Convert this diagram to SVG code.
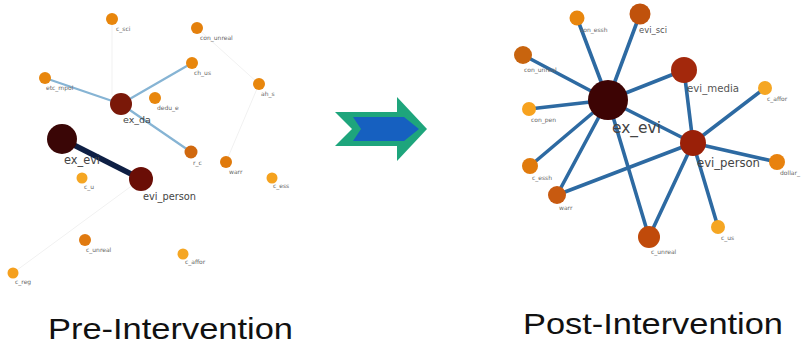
<svg xmlns="http://www.w3.org/2000/svg" width="803" height="347" viewBox="0 0 803 347">
  <style>
    .lbl { font-family: "DejaVu Sans", sans-serif; fill: #555; }
    .tiny { font-size: 6px; fill: #666; }
    .big { fill: #444; }
    .faint { stroke: #f1f1f1; stroke-width: 1; fill: none; }
    .light { stroke: #86b4d4; stroke-width: 2.2; fill: none; stroke-linecap: round; }
    .strong { stroke: #0e1f44; stroke-width: 5.5; fill: none; }
    .blue { stroke: #2d6aa2; stroke-width: 3.6; fill: none; stroke-linecap: round; }
    .caption { font-family: "Liberation Sans", Arial, sans-serif; fill: #111; }
  </style>
  <rect width="803" height="347" fill="#ffffff"/>

  <!-- Pre-intervention network: connectors -->
  <g id="pre-edges">
    <line class="faint" x1="141" y1="179" x2="13" y2="273"/>
    <line class="faint" x1="197" y1="28" x2="259" y2="84"/>
    <line class="faint" x1="112" y1="19" x2="112" y2="95"/>
    <line class="faint" x1="259" y1="84" x2="226" y2="162"/>
    <line class="light" x1="121" y1="104" x2="45" y2="78"/>
    <line class="light" x1="121" y1="104" x2="192" y2="63"/>
    <line class="light" x1="121" y1="104" x2="191" y2="152"/>
    <line class="strong" x1="62" y1="139" x2="141" y2="179"/>
  </g>

  <!-- Pre-intervention network: nodes -->
  <g id="pre-c_sci"><circle cx="112" cy="19" r="6" fill="#e8860c"/><text class="lbl tiny" x="116" y="31">c_sci</text></g>
  <g id="pre-con_unreal"><circle cx="197" cy="28" r="6" fill="#e4800c"/><text class="lbl tiny" x="200" y="40">con_unreal</text></g>
  <g id="pre-c_us"><circle cx="192" cy="63" r="6" fill="#e8860c"/><text class="lbl tiny" x="194" y="75">ch_us</text></g>
  <g id="pre-con_pen"><circle cx="45" cy="78" r="6" fill="#e8860c"/><text class="lbl tiny" x="46" y="90">etc_mpol</text></g>
  <g id="pre-dollar"><circle cx="155" cy="98" r="6" fill="#e8860c"/><text class="lbl tiny" x="157" y="110">dedu_e</text></g>
  <g id="pre-ah_s"><circle cx="259" cy="84" r="6" fill="#e8860c"/><text class="lbl tiny" x="261" y="96">ah_s</text></g>
  <g id="pre-ex_da"><circle cx="121" cy="104" r="11" fill="#7a1808"/><text class="lbl big" x="123" y="123" font-size="9.5" font-family="Liberation Serif, serif">ex_da</text></g>
  <g id="pre-r_c"><circle cx="191" cy="152" r="6.5" fill="#d0680e"/><text class="lbl tiny" x="193" y="165">r_c</text></g>
  <g id="pre-warr"><circle cx="226" cy="162" r="6" fill="#e07a0c"/><text class="lbl tiny" x="229" y="174">warr</text></g>
  <g id="pre-c_ess"><circle cx="272" cy="178" r="5.5" fill="#f5a21e"/><text class="lbl tiny" x="273" y="188">c_ess</text></g>
  <g id="pre-c_u"><circle cx="82" cy="178" r="5.5" fill="#f5a623"/><text class="lbl tiny" x="84" y="189">c_u</text></g>
  <g id="pre-ex_evi"><circle cx="62" cy="139" r="15" fill="#3a0606"/><text class="lbl big" x="64" y="164" font-size="11.5" textLength="36" lengthAdjust="spacingAndGlyphs">ex_evi</text></g>
  <g id="pre-evi_person"><circle cx="141" cy="179" r="12" fill="#6a0e06"/><text class="lbl big" x="143" y="200" font-size="10" textLength="53" lengthAdjust="spacingAndGlyphs">evi_person</text></g>
  <g id="pre-c_unreal"><circle cx="85" cy="240" r="6" fill="#e07a10"/><text class="lbl tiny" x="86" y="252">c_unreal</text></g>
  <g id="pre-c_affor"><circle cx="183" cy="254" r="5.5" fill="#f5a623"/><text class="lbl tiny" x="185" y="264">c_affor</text></g>
  <g id="pre-c_reg"><circle cx="13" cy="273" r="5.5" fill="#f5a01e"/><text class="lbl tiny" x="15" y="284">c_reg</text></g>

  <!-- Transition arrow -->
  <g id="arrow">
    <polygon points="335,112 397,112 397,97 427,129 397,161 397,146 335,146 352,129" fill="#1ea57c"/>
    <polygon points="353,117 404,117 419,129 404,141 353,141 361,129" fill="#1660c0"/>
  </g>

  <!-- Post-intervention network: connectors -->
  <g id="post-edges">
    <line class="blue" x1="608" y1="100" x2="577" y2="18"/>
    <line class="blue" x1="608" y1="100" x2="640" y2="14"/>
    <line class="blue" x1="608" y1="100" x2="523" y2="55"/>
    <line class="blue" x1="608" y1="100" x2="529" y2="109"/>
    <line class="blue" x1="608" y1="100" x2="684" y2="70"/>
    <line class="blue" x1="608" y1="100" x2="530" y2="166"/>
    <line class="blue" x1="608" y1="100" x2="557" y2="195"/>
    <line class="blue" x1="608" y1="100" x2="649" y2="237"/>
    <line class="blue" x1="608" y1="100" x2="693" y2="143"/>
    <line class="blue" x1="684" y1="70" x2="693" y2="143"/>
    <line class="blue" x1="693" y1="143" x2="765" y2="88"/>
    <line class="blue" x1="693" y1="143" x2="777" y2="162"/>
    <line class="blue" x1="693" y1="143" x2="557" y2="195"/>
    <line class="blue" x1="693" y1="143" x2="649" y2="237"/>
    <line class="blue" x1="693" y1="143" x2="718" y2="227"/>
  </g>

  <!-- Post-intervention network: nodes -->
  <g id="post-con_essh"><circle cx="577" cy="18" r="7.5" fill="#e8860e"/><text class="lbl tiny" x="580" y="32">con_essh</text></g>
  <g id="post-evi_sci"><circle cx="640" cy="14" r="10.5" fill="#c0520c"/><text class="lbl" x="639" y="33" font-size="8.5" textLength="28" lengthAdjust="spacingAndGlyphs">evi_sci</text></g>
  <g id="post-con_unreal"><circle cx="523" cy="55" r="9" fill="#c8640e"/><text class="lbl tiny" x="524" y="72">con_unreal</text></g>
  <g id="post-con_pen"><circle cx="529" cy="109" r="7" fill="#f7a21e"/><text class="lbl tiny" x="531" y="122">con_pen</text></g>
  <g id="post-evi_media"><circle cx="684" cy="70" r="13" fill="#a3280c"/><text class="lbl" x="687" y="92" font-size="10.5" textLength="52" lengthAdjust="spacingAndGlyphs">evi_media</text></g>
  <g id="post-c_affor"><circle cx="765" cy="88" r="7" fill="#f5a623"/><text class="lbl tiny" x="767" y="101">c_affor</text></g>
  <g id="post-ex_evi"><circle cx="608" cy="100" r="20" fill="#3d0404"/><text class="lbl big" x="612" y="133" font-size="16" textLength="49" lengthAdjust="spacingAndGlyphs">ex_evi</text></g>
  <g id="post-evi_person"><circle cx="693" cy="143" r="13" fill="#9a2008"/><text class="lbl big" x="697" y="167" font-size="12" textLength="63" lengthAdjust="spacingAndGlyphs">evi_person</text></g>
  <g id="post-dollar"><circle cx="777" cy="162" r="8" fill="#e8820e"/><text class="lbl tiny" x="780" y="175">dollar_</text></g>
  <g id="post-c_essh"><circle cx="530" cy="166" r="8" fill="#e07a0c"/><text class="lbl tiny" x="532" y="180">c_essh</text></g>
  <g id="post-warr"><circle cx="557" cy="195" r="9" fill="#c85a10"/><text class="lbl tiny" x="559" y="210">warr</text></g>
  <g id="post-c_unreal"><circle cx="649" cy="237" r="11" fill="#c04a0a"/><text class="lbl tiny" x="651" y="254">c_unreal</text></g>
  <g id="post-c_us"><circle cx="718" cy="227" r="7" fill="#f5a623"/><text class="lbl tiny" x="721" y="240">c_us</text></g>

  <!-- Captions -->
  <text class="caption" x="48" y="339" font-size="29" textLength="245" lengthAdjust="spacingAndGlyphs">Pre-Intervention</text>
  <text class="caption" x="523" y="334" font-size="30" textLength="260" lengthAdjust="spacingAndGlyphs">Post-Intervention</text>
</svg>
